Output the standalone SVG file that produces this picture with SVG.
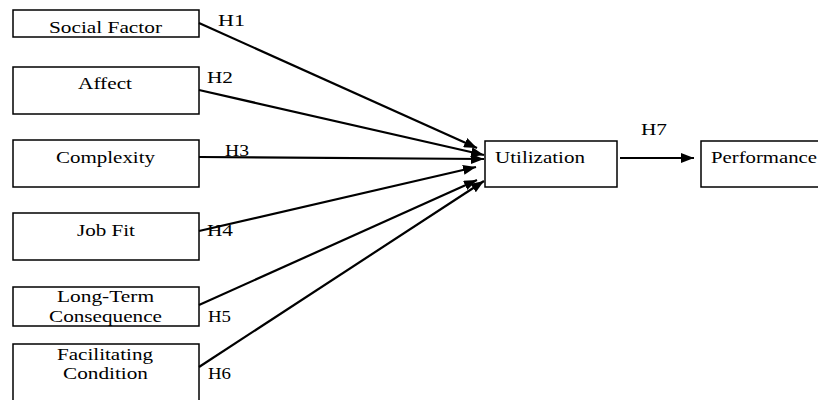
<svg xmlns="http://www.w3.org/2000/svg" width="818" height="400" viewBox="0 0 818 400">
<style>
.box{fill:#fff;stroke:#000;stroke-width:1.5}
.t{font-family:"Liberation Serif","Times New Roman",serif;font-size:16.5px;fill:#000}
.c{text-anchor:middle}
.edge{stroke:#000;stroke-width:2.2;fill:none;marker-end:url(#ah)}
</style>
<defs>
<marker id="ah" markerUnits="userSpaceOnUse" markerWidth="13" markerHeight="10" refX="13" refY="5" orient="auto">
<path d="M0,0 L13,5 L0,10 z" fill="#000"/>
</marker>
</defs>
<rect width="818" height="400" fill="#fff"/>
<g id="social">
<rect class="box" x="13" y="10" width="186" height="27"/>
<text class="t" x="49" y="33" textLength="113" lengthAdjust="spacingAndGlyphs">Social Factor</text>
</g>
<g id="affect">
<rect class="box" x="13" y="67" width="186" height="47"/>
<text class="t" x="78" y="89" textLength="54" lengthAdjust="spacingAndGlyphs">Affect</text>
</g>
<g id="complexity">
<rect class="box" x="13" y="140" width="186" height="47"/>
<text class="t" x="56" y="163" textLength="99" lengthAdjust="spacingAndGlyphs">Complexity</text>
</g>
<g id="jobfit">
<rect class="box" x="13" y="213" width="186" height="47"/>
<text class="t" x="77" y="236" textLength="58" lengthAdjust="spacingAndGlyphs">Job Fit</text>
</g>
<g id="longterm">
<rect class="box" x="13" y="287" width="186" height="39"/>
<text class="t" x="57" y="302" textLength="97" lengthAdjust="spacingAndGlyphs">Long-Term</text>
<text class="t" x="49" y="322" textLength="113" lengthAdjust="spacingAndGlyphs">Consequence</text>
</g>
<g id="facilitating">
<rect class="box" x="13" y="344" width="186" height="60"/>
<text class="t" x="57" y="360" textLength="96" lengthAdjust="spacingAndGlyphs">Facilitating</text>
<text class="t" x="63" y="379" textLength="85" lengthAdjust="spacingAndGlyphs">Condition</text>
</g>
<g id="utilization">
<rect class="box" x="485" y="141" width="132" height="46"/>
<text class="t" x="495" y="163" textLength="90" lengthAdjust="spacingAndGlyphs">Utilization</text>
</g>
<g id="performance">
<rect class="box" x="701" y="141" width="130" height="46"/>
<text class="t" x="711" y="163" textLength="106" lengthAdjust="spacingAndGlyphs">Performance</text>
</g>
<g id="connectors">
<line class="edge" x1="199" y1="23" x2="477" y2="148"/>
<line class="edge" x1="199" y1="90" x2="484" y2="155"/>
<line class="edge" x1="199" y1="157" x2="484" y2="159"/>
<line class="edge" x1="199" y1="231" x2="476" y2="167"/>
<line class="edge" x1="199" y1="305" x2="477" y2="180"/>
<line class="edge" x1="199" y1="367" x2="484" y2="181"/>
<line class="edge" x1="620" y1="158" x2="694" y2="158"/>
</g>
<g id="labels">
<text class="t" x="218" y="26" textLength="27" lengthAdjust="spacingAndGlyphs">H1</text>
<text class="t" x="207" y="83" textLength="26" lengthAdjust="spacingAndGlyphs">H2</text>
<text class="t" x="225" y="156" textLength="24" lengthAdjust="spacingAndGlyphs">H3</text>
<text class="t" x="207" y="236" textLength="26" lengthAdjust="spacingAndGlyphs">H4</text>
<text class="t" x="208" y="322" textLength="23" lengthAdjust="spacingAndGlyphs">H5</text>
<text class="t" x="208" y="379" textLength="23" lengthAdjust="spacingAndGlyphs">H6</text>
<text class="t" x="641" y="135" textLength="26" lengthAdjust="spacingAndGlyphs">H7</text>
</g>
</svg>
